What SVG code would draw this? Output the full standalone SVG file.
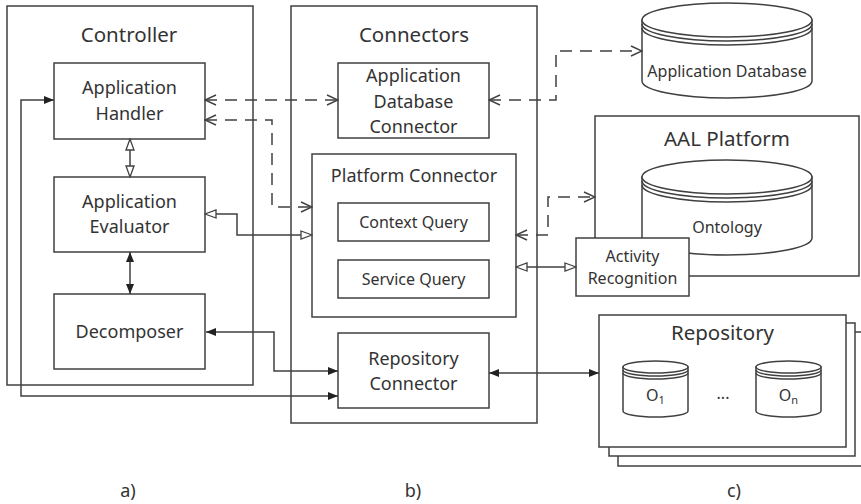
<svg xmlns="http://www.w3.org/2000/svg" width="861" height="504" viewBox="0 0 861 504">
<style>
.box{fill:#fff;stroke:#404040;stroke-width:1.5}
.ln{fill:none;stroke:#404040;stroke-width:1.5}
.dash{fill:none;stroke:#404040;stroke-width:1.5;stroke-dasharray:12 8}
text{font-family:"Noto Sans","Open Sans",sans-serif;fill:#333;text-anchor:middle}
.t{font-size:20.5px}
.n{font-size:18px}
.s{font-size:16px}
.fill{marker-start:url(#fa);marker-end:url(#fa)}
.open{marker-start:url(#oa);marker-end:url(#oa)}
.vee{marker-start:url(#va);marker-end:url(#va)}
</style>
<defs>
<marker id="fa" viewBox="0 0 10 8" refX="10" refY="4" markerWidth="10" markerHeight="8" markerUnits="userSpaceOnUse" orient="auto-start-reverse">
<path d="M0,0 L10,4 L0,8 z" fill="#222" stroke="none"/>
</marker>
<marker id="oa" viewBox="0 0 13 10" refX="12" refY="5" markerWidth="13" markerHeight="10" markerUnits="userSpaceOnUse" orient="auto-start-reverse">
<path d="M1,1 L12,5 L1,9 z" fill="#fff" stroke="#404040" stroke-width="1.3"/>
</marker>
<marker id="va" viewBox="0 0 13 12" refX="12" refY="6" markerWidth="13" markerHeight="12" markerUnits="userSpaceOnUse" orient="auto-start-reverse">
<path d="M1,1 L12,6 L1,11" fill="none" stroke="#404040" stroke-width="1.4" stroke-dasharray="none"/>
</marker>
</defs>

<g id="controller">
<rect class="box" x="7" y="6" width="246" height="379"/>
<text class="t" x="129" y="42">Controller</text>
</g>
<g id="connectors-box">
<rect class="box" x="291" y="6" width="246" height="417"/>
<text class="t" x="414" y="42">Connectors</text>
</g>

<g id="app-handler">
<rect class="box" x="54" y="63" width="151" height="76"/>
<text class="n" x="129.5" y="94">Application</text>
<text class="n" x="129.5" y="120">Handler</text>
</g>
<g id="app-evaluator">
<rect class="box" x="54" y="177" width="151" height="75"/>
<text class="n" x="129.5" y="208">Application</text>
<text class="n" x="129.5" y="233">Evaluator</text>
</g>
<g id="decomposer">
<rect class="box" x="54" y="294" width="151" height="75"/>
<text class="n" x="129.5" y="338">Decomposer</text>
</g>

<g id="app-db-connector">
<rect class="box" x="338" y="63" width="151" height="75"/>
<text class="n" x="413.5" y="82">Application</text>
<text class="n" x="413.5" y="108">Database</text>
<text class="n" x="413.5" y="133">Connector</text>
</g>
<g id="platform-connector">
<rect class="box" x="312" y="154" width="204" height="163"/>
<text class="n" x="414" y="182">Platform Connector</text>
</g>
<g id="context-query">
<rect class="box" x="338" y="203" width="151" height="38"/>
<text class="s" x="413.5" y="228">Context Query</text>
</g>
<g id="service-query">
<rect class="box" x="338" y="260" width="151" height="38"/>
<text class="s" x="413.5" y="285">Service Query</text>
</g>
<g id="repository-connector">
<rect class="box" x="338" y="333" width="151" height="75"/>
<text class="n" x="413.5" y="365">Repository</text>
<text class="n" x="413.5" y="390">Connector</text>
</g>

<g id="application-database">
<path class="box" d="M642,20 V81 A85,17 0 0 0 812,81 V20 z"/>
<ellipse class="box" cx="727" cy="20" rx="85" ry="17"/>
<path class="ln" d="M642,24 A85,17 0 0 0 812,24 M642,28 A85,17 0 0 0 812,28"/>
<text class="s" x="727" y="77">Application Database</text>
</g>

<g id="aal-platform">
<rect class="box" x="595" y="116" width="264" height="160"/>
<text class="t" x="727" y="146">AAL Platform</text>
</g>
<g id="ontology">
<path class="box" d="M642,177 V238 A85,17 0 0 0 812,238 V177 z"/>
<ellipse class="box" cx="727" cy="177" rx="85" ry="17"/>
<path class="ln" d="M642,181 A85,17 0 0 0 812,181 M642,185 A85,17 0 0 0 812,185"/>
<text class="s" x="727" y="233">Ontology</text>
</g>
<g id="activity-recognition">
<rect class="box" x="576" y="238" width="113" height="58"/>
<text class="s" x="632.5" y="262">Activity</text>
<text class="s" x="632.5" y="284">Recognition</text>
</g>

<g id="repository">
<path class="box" d="M870,332 H618 V466 H870"/>
<rect class="box" x="609" y="323" width="246" height="133"/>
<rect class="box" x="599" y="315" width="247" height="132"/>
<text class="t" x="722.5" y="340">Repository</text>
<g id="o1">
<path class="box" d="M623,367 V411 A32.5,6 0 0 0 688,411 V367 z"/>
<ellipse class="box" cx="655.5" cy="367" rx="32.5" ry="6"/>
<path class="ln" d="M623,370 A32.5,6 0 0 0 688,370 M623,373 A32.5,6 0 0 0 688,373"/>
<text class="s" x="655.5" y="401">O<tspan font-size="11" dy="3">1</tspan></text>
</g>
<text class="s" x="723" y="399">...</text>
<g id="on">
<path class="box" d="M756,367 V411 A32.5,6 0 0 0 821,411 V367 z"/>
<ellipse class="box" cx="788.5" cy="367" rx="32.5" ry="6"/>
<path class="ln" d="M756,370 A32.5,6 0 0 0 821,370 M756,373 A32.5,6 0 0 0 821,373"/>
<text class="s" x="788.5" y="401">O<tspan font-size="11" dy="3">n</tspan></text>
</g>
</g>

<g id="connections">
<path class="ln fill" d="M54,100 H21 V396 H338"/>
<path class="ln fill" d="M206,332 H274 V371 H338"/>
<path class="ln open" d="M130,139 V177"/>
<path class="ln fill" d="M130,252 V294"/>
<path class="ln open" d="M205,214 H237 V235 H312"/>
<path class="dash vee" d="M205,100 H338"/>
<path class="dash vee" d="M205,120 H272 V207 H312"/>
<path class="dash vee" d="M489,100 H556 V51 H642"/>
<path class="dash vee" d="M516,235 H548 V197 H595"/>
<path class="ln open" d="M516,267 H576"/>
<path class="ln fill" d="M489,373 H599"/>
</g>

<g id="labels">
<text class="n" x="128" y="497">a)</text>
<text class="n" x="413" y="497">b)</text>
<text class="n" x="734" y="497">c)</text>
</g>
</svg>
